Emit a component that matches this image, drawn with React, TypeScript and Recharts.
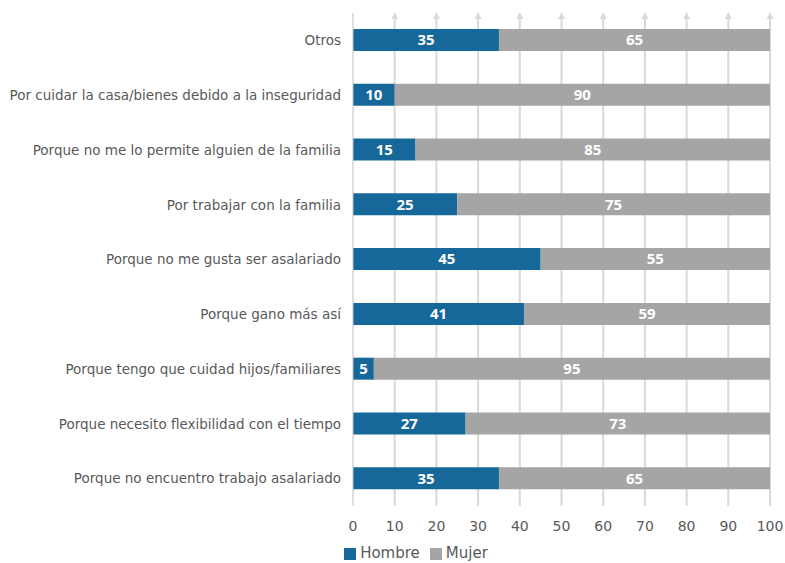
import React from 'react';
import {
  BarChart,
  Bar,
  XAxis,
  YAxis,
  CartesianGrid,
  Legend,
  LabelList,
} from 'recharts';

const categories = [
  'Otros',
  'Por cuidar la casa/bienes debido a la inseguridad',
  'Porque no me lo permite alguien  de la familia',
  'Por trabajar con la familia',
  'Porque no me gusta ser asalariado',
  'Porque gano más así',
  'Porque tengo que cuidad hijos/familiares',
  'Porque necesito flexibilidad con el tiempo',
  'Porque no  encuentro trabajo asalariado',
];
const hombre = [35, 10, 15, 25, 45, 41, 5, 27, 35];
const mujer = [65, 90, 85, 75, 55, 59, 95, 73, 65];
const xTicks = [0, 10, 20, 30, 40, 50, 60, 70, 80, 90, 100];

const data = categories.map((c, i) => ({ cat: c, hombre: hombre[i], mujer: mujer[i] }));

const FONT = '"DejaVu Sans", sans-serif';
const LABEL_FONT = '"Open Sans", sans-serif';
const TEXT = '#595959';

// vertical grid line with a small arrowhead on top
const ArrowLine = (props: any) => {
  const { x1, y1, y2, index } = props;
  if (index === 0) return <g />;
  return (
    <g>
      <line x1={x1} x2={x1} y1={y1 + 3} y2={y2} stroke="#d9d9d9" strokeWidth={2} />
      <polygon points={`${x1},${y1 - 1} ${x1 - 3.5},${y1 + 6} ${x1 + 3.5},${y1 + 6}`} fill="#d9d9d9" />
    </g>
  );
};

const App: React.FC = () => (
  <div style={{ width: 785, height: 563 }}>
    <style>{`body{margin:0}`}</style>
    <BarChart
      width={785}
      height={563}
      data={data}
      layout="vertical"
      margin={{ top: 13, right: 15, bottom: 1, left: 0 }}
      barSize={22}
    >
      <CartesianGrid horizontal={false} vertical={ArrowLine} />
      <XAxis
        type="number"
        domain={[0, 100]}
        ticks={xTicks}
        axisLine={false}
        tickLine={false}
        height={38}
        tick={{ fill: TEXT, fontSize: 14, fontFamily: FONT }}
        tickMargin={9}
        interval={0}
      />
      <YAxis
        type="category"
        dataKey="cat"
        width={353}
        axisLine={{ stroke: '#bfbfbf', strokeWidth: 1 }}
        tickLine={false}
        tickMargin={6}
        interval={0}
        tick={{ fill: TEXT, fontSize: 13.5, fontFamily: FONT, style: { whiteSpace: 'pre' } }}
      />
      <Legend
        verticalAlign="bottom"
        align="center"
        iconType="square"
        iconSize={12}
        wrapperStyle={{ fontFamily: FONT, fontSize: 15, paddingLeft: 36 }}
        formatter={(v: string) => <span style={{ color: TEXT }}>{v}</span>}
      />
      <Bar dataKey="hombre" name="Hombre" stackId="a" fill="#17689a" isAnimationActive={false}>
        <LabelList dataKey="hombre" position="center" fill="#ffffff" fontSize={15} fontWeight="bold" fontFamily={LABEL_FONT} />
      </Bar>
      <Bar dataKey="mujer" name="Mujer" stackId="a" fill="#a5a5a5" isAnimationActive={false}>
        <LabelList dataKey="mujer" position="center" fill="#ffffff" fontSize={15} fontWeight="bold" fontFamily={LABEL_FONT} />
      </Bar>
    </BarChart>
  </div>
);

export default App;
